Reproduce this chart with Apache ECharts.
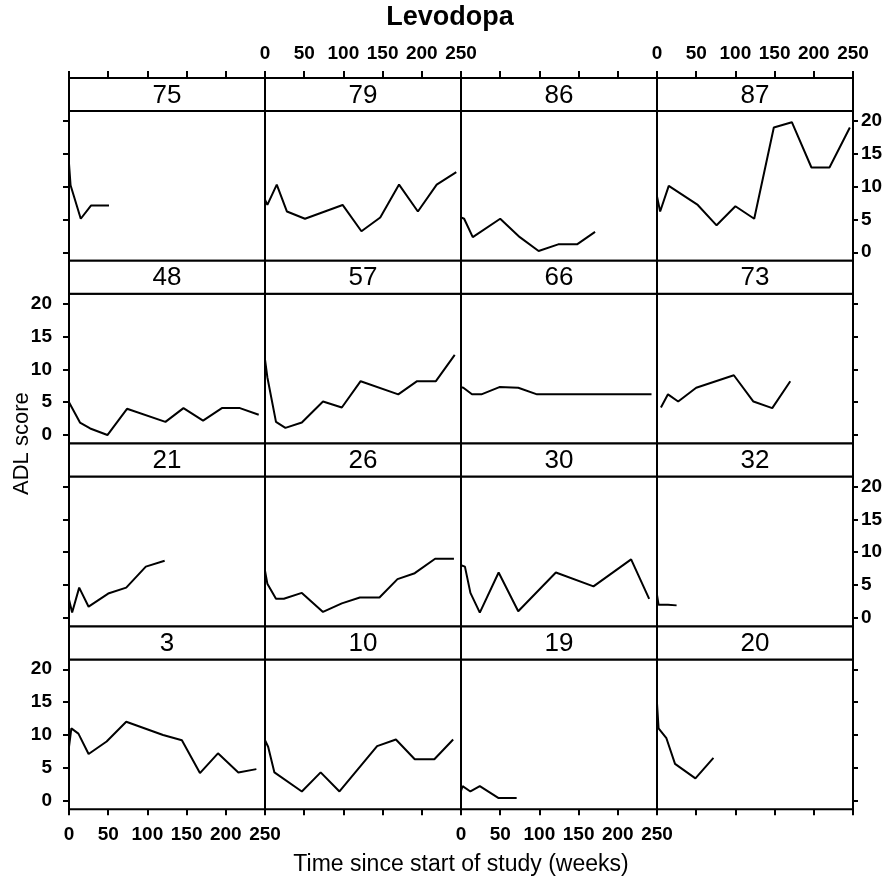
<!DOCTYPE html>
<html>
<head>
<meta charset="utf-8">
<title>Levodopa – ADL score by patient</title>
<script src="https://cdn.jsdelivr.net/npm/echarts@6/dist/echarts.min.js"></script>
<style>
  html, body { margin: 0; padding: 0; background: #fff; }
  #chart { width: 893px; height: 883px; }
</style>
</head>
<body>
<div id="chart"></div>
<script>
// Panel order: top row first, left to right
const panelLabels = ['75', '79', '86', '87', '48', '57', '66', '73', '21', '26', '30', '32', '3', '10', '19', '20'];

// [week, ADL score] per patient
const p75 = [[0, 13.5], [2, 10.2], [15, 5.1], [28, 7.1], [51, 7.1]];
const p79 = [[0, 8], [3, 7.2], [15, 10.3], [28, 6.2], [51, 5.1], [99, 7.2], [123, 3.2], [147, 5.3], [171, 10.3], [195, 6.2], [219, 10.3], [244, 12.2]];
const p86 = [[0, 5.3], [4, 5.1], [15, 2.3], [50, 5.1], [75, 2.3], [99, 0.2], [124, 1.2], [148, 1.2], [171, 3.1]];
const p87 = [[0, 8.5], [4, 6.2], [15, 10.1], [52, 7.2], [76, 4.1], [100, 7], [124, 5.1], [149, 19], [172, 19.8], [197, 12.9], [220, 12.9], [246, 19]];
const p48 = [[0, 5], [14, 1.9], [27, 1], [49, 0], [74, 4], [123, 2], [146, 4.1], [171, 2.2], [195, 4.1], [218, 4.1], [242, 3.1]];
const p57 = [[0, 11.5], [3, 8.8], [14, 2], [26, 1.1], [47, 1.9], [74, 5.1], [98, 4.2], [122, 8.2], [170, 6.2], [194, 8.2], [218, 8.2], [242, 12.2]];
const p66 = [[0, 7.3], [3, 7.2], [14, 6.2], [26, 6.2], [49, 7.3], [73, 7.2], [97, 6.2], [243, 6.2]];
const p73 = [[5, 4.2], [14, 6.2], [27, 5.1], [50, 7.2], [98, 9.1], [123, 5.1], [147, 4.1], [170, 8.2]];
const p21 = [[0, 2.8], [4, 0.8], [13, 4.6], [25, 1.7], [50, 3.7], [73, 4.6], [98, 7.8], [122, 8.7]];
const p26 = [[0, 7.2], [3, 5.2], [14, 2.9], [24, 2.9], [47, 3.8], [74, 0.9], [98, 2.2], [121, 3.1], [146, 3.1], [169, 5.9], [191, 6.8], [217, 9], [241, 9]];
const p30 = [[0, 8], [5, 7.8], [12, 3.8], [24, 0.8], [48, 6.9], [73, 1], [121, 6.9], [169, 4.8], [217, 8.9], [240, 2.9]];
const p32 = [[0, 3.5], [2, 2], [14, 2], [25, 1.9]];
const p3 = [[0, 8.2], [3, 11], [12, 10.2], [25, 7.1], [48, 9], [73, 12], [120, 10], [144, 9.2], [167, 4.2], [190, 7.2], [216, 4.3], [239, 4.8]];
const p10 = [[0, 9.2], [4, 8.2], [12, 4.3], [47, 1.4], [71, 4.3], [95, 1.4], [143, 8.3], [167, 9.3], [191, 6.3], [216, 6.3], [240, 9.3]];
const p19 = [[0, 1.5], [2, 2.2], [12, 1.4], [24, 2.2], [48, 0.4], [71, 0.4]];
const p20 = [[0, 14.8], [2, 11], [12, 9.5], [23, 5.6], [49, 3.4], [72, 6.5]];

const panelData = [p75, p79, p86, p87, p48, p57, p66, p73, p21, p26, p30, p32, p3, p10, p19, p20];

// Axis scales and tick labels
const weekMin = 0, weekMax = 250, weekStep = 50;
const scoreMin = -1.3, scoreMax = 21.5;
const scoreTicks = [0, 5, 10, 15, 20];

const titleText = 'Levodopa';
const xTitleText = 'Time since start of study (weeks)';
const yTitleText = 'ADL score';

// Lattice geometry
const FONT = "'Liberation Sans', Arial, sans-serif";
const NCOL = 4, NROW = 4;
const LEFT = 69, TOP = 78;
const PANEL_W = 196;
const STRIP_H = 33;
const PLOT_H = 149.8;
const ROW_H = STRIP_H + PLOT_H;
const LINE_W = 2;
const TICK_FONT = 19;

const grids = [], xAxes = [], yAxes = [], series = [], graphics = [];

panelLabels.forEach(function (label, i) {
  const r = Math.floor(i / NCOL), c = i % NCOL;
  const x0 = LEFT + c * PANEL_W;
  const y0 = TOP + r * ROW_H;

  grids.push({
    left: x0, top: y0 + STRIP_H, width: PANEL_W, height: PLOT_H,
    show: true, borderColor: '#000', borderWidth: LINE_W, backgroundColor: 'transparent'
  });

  // alternating lattice axes: top row / bottom row carry the week scale
  const topRow = r === 0, bottomRow = r === NROW - 1;
  xAxes.push({
    gridIndex: i, type: 'value', min: weekMin, max: weekMax, interval: weekStep,
    show: topRow || bottomRow,
    position: topRow ? 'top' : 'bottom',
    offset: topRow ? STRIP_H : 0,
    axisLine: { show: false, onZero: false },
    axisTick: { show: true, inside: false, length: topRow ? 7 : 6, lineStyle: { color: '#000', width: LINE_W } },
    axisLabel: {
      show: topRow ? (c % 2 === 1) : (c % 2 === 0),
      margin: topRow ? 15 : 16,
      color: '#000', fontFamily: FONT, fontSize: TICK_FONT, fontWeight: 'bold',
      showMinLabel: true, showMaxLabel: true
    },
    splitLine: { show: false }
  });

  // left / right columns carry the score scale
  const leftCol = c === 0, rightCol = c === NCOL - 1;
  yAxes.push({
    gridIndex: i, type: 'value', min: scoreMin, max: scoreMax,
    show: leftCol || rightCol,
    position: leftCol ? 'left' : 'right',
    axisLine: { show: false, onZero: false },
    axisTick: { show: true, inside: false, length: leftCol ? 6 : 5, customValues: scoreTicks, lineStyle: { color: '#000', width: LINE_W } },
    axisLabel: {
      show: leftCol ? (r % 2 === 1) : (r % 2 === 0),
      customValues: scoreTicks,
      margin: leftCol ? 17 : 8,
      color: '#000', fontFamily: FONT, fontSize: TICK_FONT, fontWeight: 'bold'
    },
    splitLine: { show: false }
  });

  series.push({
    type: 'line', name: label, xAxisIndex: i, yAxisIndex: i,
    data: panelData[i], showSymbol: false, symbol: 'none', silent: true,
    lineStyle: { color: '#000', width: LINE_W }
  });

  // strip with the patient number
  graphics.push({
    type: 'rect', z: 10,
    shape: { x: x0, y: y0, width: PANEL_W, height: STRIP_H },
    style: { fill: '#fff', stroke: '#000', lineWidth: LINE_W }
  });
  graphics.push({
    type: 'text', z: 11, x: x0 + PANEL_W / 2, y: y0 + STRIP_H / 2 + 1,
    style: { text: label, font: '26px ' + FONT, fill: '#000', align: 'center', verticalAlign: 'middle', textAlign: 'center', textVerticalAlign: 'middle' }
  });
});

const plotRight = LEFT + NCOL * PANEL_W;
const plotBottom = TOP + NROW * ROW_H;

graphics.push({
  type: 'text', x: 450, y: 18,
  style: { text: titleText, font: 'bold 27px ' + FONT, fill: '#000', align: 'center', verticalAlign: 'middle', textAlign: 'center', textVerticalAlign: 'middle' }
});
graphics.push({
  type: 'text', x: (LEFT + plotRight) / 2, y: 865,
  style: { text: xTitleText, font: '23px ' + FONT, fill: '#000', align: 'center', verticalAlign: 'middle', textAlign: 'center', textVerticalAlign: 'middle' }
});
graphics.push({
  type: 'text', x: 22, y: (TOP + plotBottom) / 2, rotation: Math.PI / 2,
  style: { text: yTitleText, font: '22px ' + FONT, fill: '#000', align: 'center', verticalAlign: 'middle', textAlign: 'center', textVerticalAlign: 'middle' }
});

const chart = echarts.init(document.getElementById('chart'), null, { renderer: 'canvas' });
chart.setOption({
  animation: false,
  backgroundColor: '#fff',
  grid: grids,
  xAxis: xAxes,
  yAxis: yAxes,
  series: series,
  graphic: { elements: graphics }
});
</script>
</body>
</html>
